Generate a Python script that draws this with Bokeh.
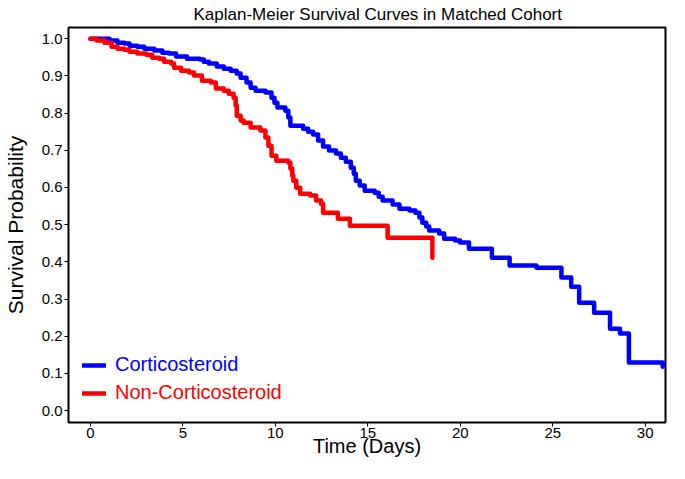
from bokeh.plotting import figure
from bokeh.models import Legend, LegendItem, Range1d, FixedTicker, NumeralTickFormatter
from bokeh.embed import file_html
from bokeh.resources import INLINE

# Corticosteroid group (days, survival probability)
cs_time = [0, 1.03, 1.46, 1.84, 2.11, 2.53, 2.91, 3.45, 3.88, 4.25, 4.63, 5.22, 5.92, 6.13, 6.40,
           6.83, 7.21, 7.58, 7.91, 8.12, 8.44, 8.66, 8.93, 9.46, 9.79, 9.95, 10.11, 10.54, 10.70,
           10.81, 11.50, 11.77, 12.04, 12.31, 12.58, 12.90, 13.28, 13.54, 13.81, 14.08, 14.24,
           14.35, 14.56, 14.83, 15.37, 15.59, 15.80, 16.34, 16.71, 17.25, 17.57, 17.79, 17.95,
           18.16, 18.32, 18.86, 19.13, 19.72, 19.99, 20.47, 21.71, 22.67, 24.12, 25.47, 26.00,
           26.43, 27.24, 28.10, 28.64, 29.12, 30.95]
cs_surv = [1.0, 0.995, 0.989, 0.987, 0.981, 0.978, 0.973, 0.968, 0.962, 0.960, 0.952, 0.946, 0.944,
           0.938, 0.933, 0.925, 0.919, 0.914, 0.906, 0.895, 0.882, 0.868, 0.860, 0.855, 0.841,
           0.828, 0.815, 0.806, 0.788, 0.766, 0.758, 0.750, 0.742, 0.726, 0.710, 0.699, 0.691,
           0.680, 0.669, 0.653, 0.637, 0.618, 0.605, 0.591, 0.586, 0.575, 0.565, 0.554, 0.543,
           0.538, 0.532, 0.519, 0.505, 0.495, 0.484, 0.476, 0.462, 0.457, 0.452, 0.435, 0.411,
           0.390, 0.384, 0.358, 0.333, 0.290, 0.263, 0.220, 0.207, 0.129, 0.118]

# Non-corticosteroid group
ncs_time = [0, 0.33, 0.76, 1.14, 1.46, 1.84, 2.11, 2.53, 3.02, 3.34, 3.72, 3.98, 4.36, 4.52, 4.90,
            5.33, 5.60, 6.03, 6.51, 6.78, 7.21, 7.48, 7.74, 7.85, 7.91, 8.12, 8.28, 8.66, 9.19,
            9.46, 9.62, 9.79, 10.05, 10.70, 10.81, 10.91, 10.97, 11.13, 11.34, 11.88, 12.20,
            12.47, 12.58, 13.38, 14.03, 16.07, 18.49]
ncs_surv = [1.0, 0.995, 0.989, 0.978, 0.973, 0.970, 0.965, 0.960, 0.957, 0.949, 0.946, 0.938,
            0.933, 0.922, 0.914, 0.909, 0.901, 0.887, 0.882, 0.866, 0.860, 0.852, 0.841, 0.820,
            0.793, 0.780, 0.774, 0.761, 0.753, 0.734, 0.712, 0.685, 0.672, 0.667, 0.651, 0.632,
            0.618, 0.599, 0.583, 0.578, 0.565, 0.556, 0.532, 0.516, 0.497, 0.465, 0.411]

x_ticks = [0, 5, 10, 15, 20, 25, 30]
y_ticks = [0.0, 0.1, 0.2, 0.3, 0.4, 0.5, 0.6, 0.7, 0.8, 0.9, 1.0]

FONT = "Liberation Sans"

p = figure(width=669, height=463, output_backend="svg", toolbar_location=None,
           x_range=Range1d(-1.19, 31.1), y_range=Range1d(-0.032, 1.03),
           min_border_left=64, min_border_right=4, min_border_top=27, min_border_bottom=41)

p.title.text = "Kaplan-Meier Survival Curves in Matched Cohort"
p.title.align = "left"
p.title.offset = 125
p.title.vertical_align = "top"
p.title.text_font = FONT
p.title.text_font_size = "17px"
p.title.text_font_style = "normal"
p.title.text_color = "black"
p.title.standoff = 4

p.background_fill_color = "white"
p.border_fill_color = "white"
p.outline_line_color = "black"
p.outline_line_width = 2
p.xgrid.visible = False
p.ygrid.visible = False

p.xaxis.ticker = FixedTicker(ticks=x_ticks)
p.yaxis.ticker = FixedTicker(ticks=y_ticks)
p.yaxis.formatter = NumeralTickFormatter(format="0.0")
for ax in (p.xaxis, p.yaxis):
    ax.axis_line_color = None
    ax.major_tick_line_color = "black"
    ax.major_tick_out = 4
    ax.major_tick_in = 0
    ax.minor_tick_line_color = None
    ax.major_label_text_font = FONT
    ax.major_label_text_font_size = "15px"
    ax.major_label_text_color = "black"
    ax.axis_label_text_font = FONT
    ax.axis_label_text_font_style = "normal"
    ax.axis_label_text_color = "black"
p.xaxis.axis_label = "Time (Days)"
p.yaxis.axis_label = "Survival Probability"
p.xaxis.axis_label_text_font_size = "20px"
p.yaxis.axis_label_text_font_size = "21px"
p.xaxis.major_label_standoff = 1
p.xaxis.axis_label_standoff = -6
p.yaxis.major_label_standoff = 2
p.yaxis.axis_label_standoff = 12

r_cs = p.step(cs_time, cs_surv, mode="after", line_color="#0000FF", line_width=4.5,
              line_join="round", line_cap="round")
r_ncs = p.step(ncs_time, ncs_surv, mode="after", line_color="#FF0000", line_width=4.5,
               line_join="round", line_cap="round")

def make_legend(label, renderer, color, loc):
    return Legend(items=[LegendItem(label=label, renderers=[renderer])], location=loc,
                  label_text_color=color, label_text_font=FONT, label_text_font_size="20px",
                  glyph_width=24, glyph_height=20, label_standoff=9, padding=0, margin=0,
                  spacing=0, background_fill_alpha=0, border_line_alpha=0)

p.add_layout(make_legend("Corticosteroid", r_cs, "#0000FF", (14, 46)))
p.add_layout(make_legend("Non-Corticosteroid", r_ncs, "#FF0000", (14, 18)))

open("out.html", "w").write(file_html(p, INLINE))
